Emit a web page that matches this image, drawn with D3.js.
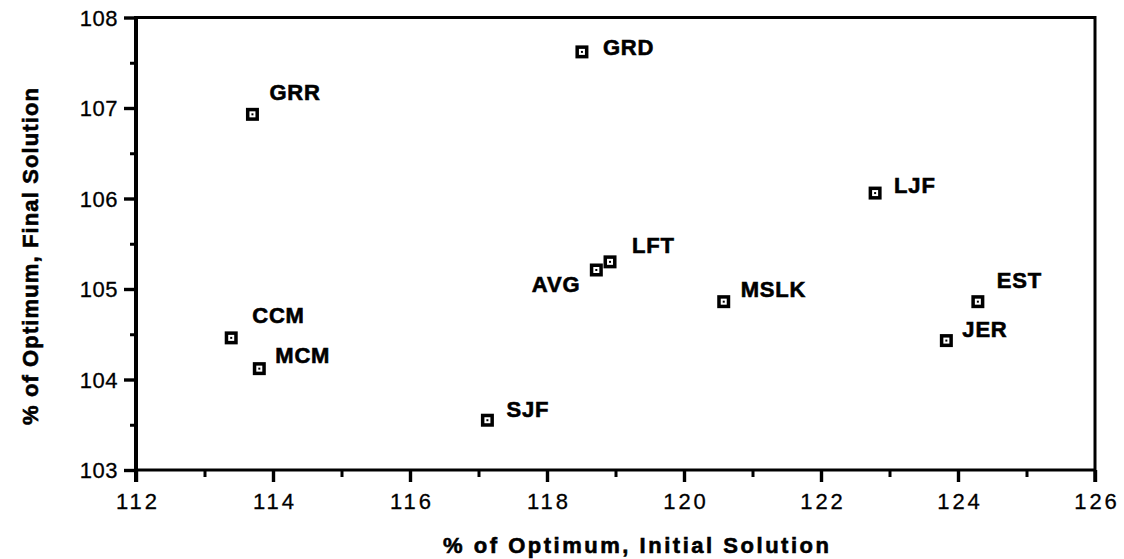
<!DOCTYPE html>
<html>
<head>
<meta charset="utf-8">
<script src="https://cdn.jsdelivr.net/npm/d3@7"></script>
<style>
  html, body { margin: 0; padding: 0; background: #fff; }
  svg { display: block; }
  text { font-family: "Liberation Sans", Arial, Helvetica, sans-serif; fill: #000; }
  .heavy { font-weight: bold; stroke: #000; stroke-width: 0.6px; }
</style>
</head>
<body>
<svg id="chart" width="1124" height="559"></svg>
<script>
// Heuristic results: % of optimum for initial vs final solution
const names    = ["GRR", "GRD", "LJF", "LFT", "AVG", "MSLK", "EST", "JER", "CCM", "MCM", "SJF"];
const initial  = [113.70, 118.51, 122.79, 118.92, 118.72, 120.58, 124.29, 123.83, 113.39, 113.80, 117.13];
const finalSol = [106.93, 107.62, 106.06, 105.30, 105.21, 104.86, 104.86, 104.43, 104.46, 104.12, 103.55];

// label placement relative to each point: [dx, dy, anchor]
const labelPos = {
  GRR: [17, -14, "start"], GRD: [21, 3, "start"], LJF: [19, 0, "start"],
  LFT: [22, -9, "start"], AVG: [-16, 22, "end"], MSLK: [17, -5, "start"],
  EST: [19, -14, "start"], JER: [16, -4, "start"], CCM: [21, -15, "start"],
  MCM: [16, -6, "start"], SJF: [19, -3, "start"]
};

const xMajor = [112, 114, 116, 118, 120, 122, 124, 126];
const xMinor = [113, 115, 117, 119, 121, 123, 125];
const yMajor = [103, 104, 105, 106, 107, 108];
const yMinor = [103.5, 104.5, 105.5, 106.5, 107.5];

const xTitle = "% of Optimum, Initial Solution";
const yTitle = "% of Optimum, Final Solution";

const svg = d3.select("#chart");
const plotL = 136, plotR = 1095, plotT = 17.5, plotB = 470;

const x = d3.scaleLinear().domain([112, 126]).range([plotL, plotR]);
const y = d3.scaleLinear().domain([103, 108]).range([plotB, plotT]);

// minor ticks
svg.append("g").attr("transform", `translate(0,${plotB})`)
  .call(d3.axisBottom(x).tickValues(xMinor).tickSize(7).tickFormat(""))
  .call(g => g.select(".domain").remove())
  .call(g => g.selectAll("line").attr("stroke-width", 3));
svg.append("g").attr("transform", `translate(${plotL},0)`)
  .call(d3.axisLeft(y).tickValues(yMinor).tickSize(6).tickFormat(""))
  .call(g => g.select(".domain").remove())
  .call(g => g.selectAll("line").attr("stroke-width", 3));

// major ticks + labels
const gx = svg.append("g").attr("transform", `translate(0,${plotB})`)
  .call(d3.axisBottom(x).tickValues(xMajor).tickSize(12).tickPadding(0).tickFormat(d3.format("d")))
  .call(g => g.select(".domain").remove());
gx.selectAll("line").attr("stroke-width", 3.4);
gx.selectAll("text")
  .attr("y", 39).attr("dy", 0)
  .style("font-size", "22px").style("letter-spacing", "3px")
  .attr("dx", "1.5px")
  .attr("stroke", "#000").attr("stroke-width", 0.3);

const gy = svg.append("g").attr("transform", `translate(${plotL},0)`)
  .call(d3.axisLeft(y).tickValues(yMajor).tickSize(12).tickPadding(0).tickFormat(d3.format("d")))
  .call(g => g.select(".domain").remove());
gy.selectAll("line").attr("stroke-width", 3.4);
gy.selectAll("text")
  .attr("x", -18).attr("dy", "0.36em")
  .style("font-size", "22px").style("letter-spacing", "0.5px")
  .attr("stroke", "#000").attr("stroke-width", 0.3);

// frame
svg.append("rect")
  .attr("x", plotL).attr("y", plotT)
  .attr("width", plotR - plotL).attr("height", plotB - plotT)
  .attr("fill", "none").attr("stroke", "#000").attr("stroke-width", 3);
svg.append("line")
  .attr("x1", plotL).attr("x2", plotL).attr("y1", plotT - 1.5).attr("y2", plotB + 12)
  .attr("stroke", "#000").attr("stroke-width", 4);
svg.append("line")
  .attr("x1", plotR).attr("x2", plotR).attr("y1", plotB).attr("y2", plotB + 12)
  .attr("stroke", "#000").attr("stroke-width", 3.4);

// points
const pts = names.map((n, i) => ({ name: n, x: initial[i], y: finalSol[i] }));
const gp = svg.append("g").selectAll("g").data(pts).join("g")
  .attr("transform", d => `translate(${x(d.x)},${y(d.y)})`);
gp.append("rect").attr("x", -6.5).attr("y", -6.5).attr("width", 13).attr("height", 13).attr("fill", "#000");
gp.append("rect").attr("x", -3).attr("y", -3).attr("width", 6).attr("height", 6).attr("fill", "#fff");
gp.append("rect").attr("x", -1).attr("y", -1).attr("width", 2).attr("height", 2).attr("fill", "#000");
gp.append("text")
  .attr("class", "heavy")
  .attr("x", d => labelPos[d.name][0])
  .attr("y", d => labelPos[d.name][1])
  .attr("text-anchor", d => labelPos[d.name][2])
  .style("font-size", "22px").style("letter-spacing", "0.8px")
  .text(d => d.name);

// axis titles
svg.append("text")
  .attr("class", "heavy")
  .attr("x", 443).attr("y", 553)
  .attr("textLength", 386).attr("lengthAdjust", "spacing")
  .style("font-size", "22px")
  .text(xTitle);
svg.append("text")
  .attr("class", "heavy")
  .attr("transform", "translate(38,425) rotate(-90)")
  .attr("textLength", 337).attr("lengthAdjust", "spacing")
  .style("font-size", "22px")
  .text(yTitle);
</script>
</body>
</html>
